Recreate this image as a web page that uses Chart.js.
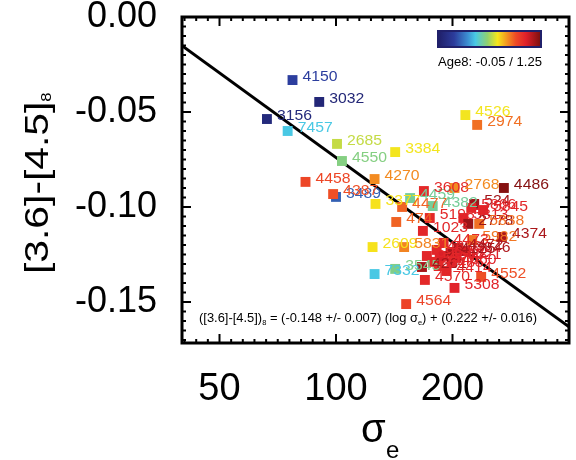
<!DOCTYPE html>
<html>
<head>
<meta charset="utf-8">
<script src="https://cdn.jsdelivr.net/npm/chart.js@4.4.0/dist/chart.umd.min.js"></script>
<style>
  body { margin: 0; background: #fff; }
</style>
</head>
<body>
<canvas id="myChart" width="576" height="460"></canvas>
<script>
// galaxy names, velocity dispersion, colour and age (Age8, sets colour)
const names = ["4150", "3032", "3156", "7457", "2685", "4550", "3384", "4526", "2974", "4458",
  "4270", "3489", "4387", "3377", "4477", "4459", "4382", "3608", "2768", "4486",
  "524", "5845", "5198", "5813", "5866", "2778", "5838", "474", "1023", "4374",
  "5982", "2609", "5831", "7332", "3545", "4261", "4570", "4564", "5308", "4552",
  "4414", "4621", "3846", "4473", "4636", "4697", "5576", "4660", "4472", "5322",
  "5903", "4125", "5485"];
const sigma = [77.2, 90.5, 66.3, 75.0, 100.6, 103.6, 142.2, 215.9, 231.6, 83.4,
  125.8, 100.0, 98.3, 126.5, 148.2, 155.4, 177.8, 168.7, 202.4, 271.5,
  227.6, 239.9, 174.7, 213.3, 223.6, 219.7, 234.4, 143.1, 167.7, 268.3,
  224.9, 124.3, 150.0, 125.8, 142.2, 166.8, 169.7, 151.8, 202.4, 237.2,
  193.1, 204.8, 215.9, 189.7, 182.0, 185.3, 177.8, 198.8, 207.2, 189.7,
  171.7, 197.7, 184.2];
const color36 = [-0.0332, -0.0447, -0.0537, -0.0600, -0.0668, -0.0758, -0.0711, -0.0516, -0.0568, -0.0868,
  -0.0853, -0.0947, -0.0932, -0.0984, -0.1000, -0.0953, -0.0995, -0.0916, -0.0900, -0.0900,
  -0.0984, -0.1016, -0.1058, -0.1058, -0.1005, -0.1089, -0.1089, -0.1079, -0.1126, -0.1158,
  -0.1174, -0.1211, -0.1211, -0.1353, -0.1326, -0.1316, -0.1384, -0.1511, -0.1426, -0.1368,
  -0.1337, -0.1268, -0.1232, -0.1189, -0.1226, -0.1268, -0.1289, -0.1295, -0.1216, -0.1258,
  -0.1258, -0.1237, -0.1311];
const age = [0.15, 0.00, 0.02, 0.42, 0.64, 0.55, 0.70, 0.70, 0.88, 0.95,
  0.84, 0.22, 0.93, 0.71, 0.90, 0.52, 0.52, 1.04, 0.84, 1.24,
  1.19, 1.05, 1.04, 1.06, 1.05, 1.20, 0.88, 0.90, 1.05, 1.17,
  0.87, 0.71, 0.85, 0.42, 0.54, 1.18, 1.04, 0.96, 1.06, 0.93,
  1.05, 1.07, 1.16, 1.04, 1.05, 1.06, 1.04, 1.06, 1.15, 1.08,
  1.05, 1.17, 1.04];

// fit line end points
const fitSigma = [40, 400];
const fitColor = [-0.0151, -0.1631];

const xTicks = [50, 100, 200];
const yTicks = [0, -0.05, -0.10, -0.15];
const ageMin = -0.05, ageMax = 1.25;

const FONT = '"Liberation Sans", Arial, Helvetica, sans-serif';

// colour table for the age bar
const stops = [
  [0.00, "#20206a"], [0.15, "#2c3c9c"], [0.28, "#3c8cd0"], [0.36, "#48c8e6"],
  [0.48, "#90d070"], [0.58, "#f6e61c"], [0.66, "#f4a020"], [0.76, "#ee4a26"],
  [0.86, "#e0202a"], [1.00, "#801010"]
];

function hexRgb(h) {
  return [parseInt(h.substr(1, 2), 16), parseInt(h.substr(3, 2), 16), parseInt(h.substr(5, 2), 16)];
}

function ageColor(a) {
  let t = (a - ageMin) / (ageMax - ageMin);
  t = Math.max(0, Math.min(1, t));
  for (let i = 1; i < stops.length; i++) {
    if (t <= stops[i][0]) {
      const f = (t - stops[i - 1][0]) / (stops[i][0] - stops[i - 1][0]);
      const c0 = hexRgb(stops[i - 1][1]), c1 = hexRgb(stops[i][1]);
      const c = c0.map((v, k) => Math.round(v + (c1[k] - v) * f));
      return `rgb(${c[0]},${c[1]},${c[2]})`;
    }
  }
  return stops[stops.length - 1][1];
}

const pointColors = age.map(ageColor);

// text with sub parts, stretched a bit sideways like the original
function drawRich(ctx, parts, x, y, sx, color) {
  ctx.save();
  ctx.translate(x, y);
  ctx.scale(sx, 1);
  ctx.fillStyle = color;
  ctx.textAlign = "left";
  ctx.textBaseline = "alphabetic";
  let cx = 0;
  parts.forEach((p) => {
    ctx.font = p.size + "px " + FONT;
    ctx.fillText(p.t, cx, p.dy || 0);
    cx += ctx.measureText(p.t).width;
  });
  ctx.restore();
}

function richWidth(ctx, parts) {
  let w = 0;
  ctx.save();
  parts.forEach((p) => {
    ctx.font = p.size + "px " + FONT;
    w += ctx.measureText(p.t).width;
  });
  ctx.restore();
  return w;
}

const labelPlugin = {
  id: "pointLabels",
  afterDatasetsDraw(chart) {
    const ctx = chart.ctx;
    const meta = chart.getDatasetMeta(0);
    meta.data.forEach((pt, i) => {
      drawRich(ctx, [{ t: names[i], size: 15 }], pt.x + 10, pt.y + 1, 1.05, pointColors[i]);
    });
  }
};

const framePlugin = {
  id: "frame",
  afterDraw(chart) {
    const ctx = chart.ctx;
    const a = chart.chartArea;
    const xs = chart.scales.x, ys = chart.scales.y;
    ctx.save();
    ctx.strokeStyle = "#000";
    ctx.lineWidth = 2;
    ctx.beginPath();
    // y ticks, major every 0.05, minor every 0.005
    for (let k = 0; ; k++) {
      const v = -k * 0.005;
      if (v < ys.min - 1e-9) break;
      const py = ys.getPixelForValue(v);
      const len = k % 10 === 0 ? 9 : 4;
      ctx.moveTo(a.left, py); ctx.lineTo(a.left + len, py);
      ctx.moveTo(a.right, py); ctx.lineTo(a.right - len, py);
    }
    // x ticks, evenly split between the major values
    const m0 = xs.getPixelForValue(xTicks[0]);
    const step = (xs.getPixelForValue(xTicks[1]) - m0) / 10;
    const kStart = -Math.floor((m0 - a.left) / step);
    for (let k = kStart; m0 + k * step <= a.right; k++) {
      const px = m0 + k * step;
      const len = k % 10 === 0 ? 9 : 4;
      ctx.moveTo(px, a.bottom); ctx.lineTo(px, a.bottom - len);
      ctx.moveTo(px, a.top); ctx.lineTo(px, a.top + len);
    }
    ctx.stroke();
    ctx.lineWidth = 3;
    ctx.strokeRect(a.left, a.top, a.right - a.left, a.bottom - a.top);

    // axis titles
    drawRich(ctx, [{ t: "\u03c3", size: 40 }], 361, 442, 1.0, "#000");
    drawRich(ctx, [{ t: "e", size: 24 }], 386, 458, 1.0, "#000");
    ctx.save();
    ctx.translate(48, 274);
    ctx.rotate(-Math.PI / 2);
    drawRich(ctx, [{ t: "[3.6]-[4.5]", size: 34 }, { t: "8", size: 14, dy: 3 }], 0, 0, 1.2, "#000");
    ctx.restore();

    // fit equation
    const eq = [
      { t: "([3.6]-[4.5])", size: 12 }, { t: "8", size: 7, dy: 3 },
      { t: " = (-0.148 +/- 0.007) (log \u03c3", size: 12 }, { t: "e", size: 7, dy: 3 },
      { t: ") + (0.222 +/- 0.016)", size: 12 }
    ];
    drawRich(ctx, eq, 199, 322, 338 / richWidth(ctx, eq), "#000");

    // age colour bar
    const bx = 437, by = 30, bw = 105, bh = 18;
    const g = ctx.createLinearGradient(bx + 2, 0, bx + bw - 2, 0);
    stops.forEach((s) => g.addColorStop(s[0], s[1]));
    ctx.fillStyle = "#20206a";
    ctx.fillRect(bx, by, bw, bh);
    ctx.fillStyle = g;
    ctx.fillRect(bx + 2, by + 2, bw - 4, bh - 4);
    const lab = [{ t: "Age8: -0.05 / 1.25", size: 13 }];
    drawRich(ctx, lab, 438, 66, 104 / richWidth(ctx, lab), "#000");
    ctx.restore();
  }
};

const scatterData = sigma.map((s, i) => ({ x: s, y: color36[i] }));
const fitData = fitSigma.map((s, i) => ({ x: s, y: fitColor[i] }));

const myChart = new Chart(document.getElementById("myChart"), {
  data: {
    datasets: [
      {
        type: "scatter",
        label: "galaxies",
        data: scatterData,
        pointStyle: "rect",
        pointRadius: 7,
        pointHoverRadius: 7,
        backgroundColor: pointColors,
        borderWidth: 0
      },
      {
        type: "line",
        label: "fit",
        data: fitData,
        borderColor: "#000",
        borderWidth: 3,
        pointRadius: 0,
        fill: false
      }
    ]
  },
  options: {
    responsive: false,
    animation: false,
    layout: { padding: { left: 0, top: 17, right: 2, bottom: 0 } },
    plugins: { legend: { display: false }, tooltip: { enabled: false } },
    scales: {
      x: {
        type: "logarithmic",
        min: 40,
        max: 400,
        afterBuildTicks: (s) => { s.ticks = xTicks.map((v) => ({ value: v })); },
        afterFit: (s) => { s.height = 117; s.paddingLeft = 0; s.paddingRight = 0; },
        grid: { display: false },
        border: { display: false },
        ticks: {
          autoSkip: false,
          maxRotation: 0,
          padding: 16,
          color: "#000",
          font: { family: FONT, size: 38 },
          callback: (v) => String(v)
        }
      },
      y: {
        type: "linear",
        min: -0.1716,
        max: 0,
        afterBuildTicks: (s) => { s.ticks = yTicks.map((v) => ({ value: v })); },
        afterFit: (s) => { s.width = 182; s.paddingTop = 0; s.paddingBottom = 0; },
        grid: { display: false },
        border: { display: false },
        ticks: {
          padding: 17,
          color: "#000",
          font: { family: FONT, size: 36 },
          callback: (v) => v.toFixed(2)
        }
      }
    }
  },
  plugins: [labelPlugin, framePlugin]
});
</script>
</body>
</html>
